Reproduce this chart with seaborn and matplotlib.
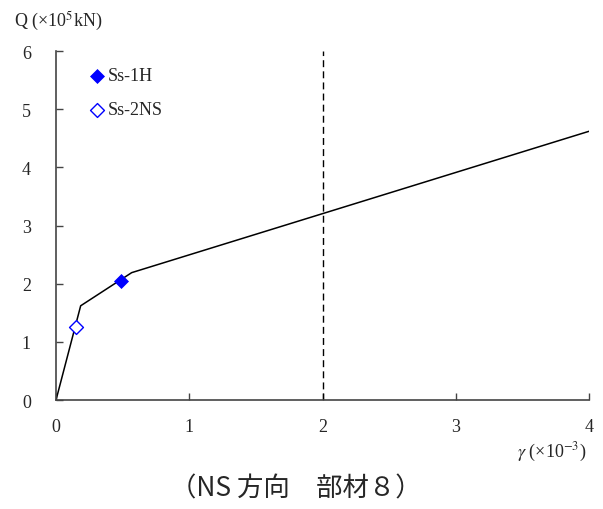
import matplotlib
matplotlib.use("Agg")
import matplotlib.pyplot as plt
import seaborn as sns
import pandas as pd

# skeleton curve
gamma_curve = [0.0, 0.185, 0.568, 4.0]
q_curve = [0.0, 1.62, 2.19, 4.62]
# response points
ss1h_gamma = [0.488]
ss1h_q = [2.04]
ss2ns_gamma = [0.148]
ss2ns_q = [1.25]
limit_gamma = 2.0
xticks = [0, 1, 2, 3, 4]
yticks = [0, 1, 2, 3, 4, 5, 6]

sns.set_theme(style="white")
plt.rcParams['font.family'] = ['Liberation Serif', 'Noto Sans CJK JP', 'DejaVu Sans']
plt.rcParams['mathtext.fontset'] = 'stix'

fig = plt.figure(figsize=(6.03, 5.10), dpi=100)
ax = fig.add_axes([0.0929, 0.2137, 0.8839, 0.6843])

df_curve = pd.DataFrame({"g": gamma_curve, "q": q_curve})
sns.lineplot(data=df_curve, x="g", y="q", ax=ax, color="black", lw=1.1, sort=False, estimator=None)
ax.axvline(limit_gamma, color="black", lw=1.0, ls=(0, (5, 3)))

sns.scatterplot(x=ss1h_gamma, y=ss1h_q, ax=ax, marker="D", s=50, color="blue",
                edgecolor="blue", zorder=5, label="Ss-1H")
sns.scatterplot(x=ss2ns_gamma, y=ss2ns_q, ax=ax, marker="D", s=50, facecolor="white",
                edgecolor="blue", linewidth=1.0, zorder=5, label="Ss-2NS")

ax.set_xlim(0, 4)
ax.set_ylim(0, 6)
ax.set_xticks(xticks)
ax.set_yticks(yticks)
ax.set_xlabel("")
ax.set_ylabel("")
for s in ["top", "right"]:
    ax.spines[s].set_visible(False)
for s in ["left", "bottom"]:
    ax.spines[s].set_color("#444444")
    ax.spines[s].set_linewidth(1.2)
ax.tick_params(direction="in", length=5, width=1, color="#444444", labelsize=13,
               left=True, bottom=True)
ax.tick_params(axis="y", pad=18)
ax.tick_params(axis="x", pad=13)

leg = ax.legend(loc="upper left", bbox_to_anchor=(0.029, 1.0), frameon=False,
                handletextpad=0.1, labelspacing=0.95, fontsize=13, markerscale=1.0,
                handlelength=1.0)

fig.text(0.023, 0.957, r"Q (×10$^{5}$kN)", fontsize=13, ha="left", va="center")
fig.text(0.972, 0.113, r"$\gamma$ (×10$^{-3}$)", fontsize=13, ha="right", va="center")
fig.text(0.49, 0.042, "（NS 方向　部材８）", fontsize=19, ha="center", va="center",
         family=['Noto Sans CJK JP', 'DejaVu Sans'])

fig.savefig("out.png", dpi=100)
